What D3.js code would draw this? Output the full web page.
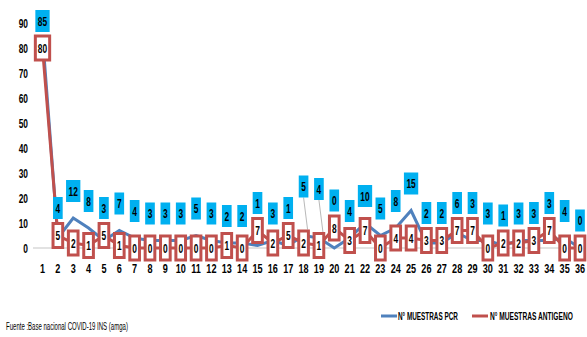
<!DOCTYPE html>
<html><head><meta charset="utf-8">
<script src="https://cdn.jsdelivr.net/npm/d3@7"></script>
<style>
html,body{margin:0;padding:0;background:#fff;}
svg text{font-family:"Liberation Sans",Arial,sans-serif;}
</style></head>
<body>
<script>
const categories = [1,2,3,4,5,6,7,8,9,10,11,12,13,14,15,16,17,18,19,20,21,22,23,24,25,26,27,28,29,30,31,32,33,34,35,36];
const pcr = [85,4,12,8,3,7,4,3,3,3,5,3,2,2,1,3,1,5,4,0,4,10,5,8,15,2,2,6,3,3,1,3,3,3,4,0];
const antigeno = [80,5,2,1,5,1,0,0,0,0,0,0,1,0,7,2,5,2,1,8,3,7,0,4,4,3,3,7,7,0,2,2,3,7,0,0];
const yTicks = [0,10,20,30,40,50,60,70,80,90];
const seriesNames = ["N° MUESTRAS PCR","N° MUESTRAS ANTIGENO"];
const sourceText = "Fuente :Base nacional COVID-19 INS (amga)";
const raisedLabels = [18,19];

const W = 587, H = 337;
const blue = "#4F81BD", red = "#C0504D", labelBlue = "#00B0F0";
const SX = 0.62;
const svg = d3.select("body").append("svg").attr("width", W).attr("height", H);

const x = d3.scalePoint().domain(categories).range([42.5, 580]);
const y = d3.scaleLinear().domain([0, 90]).range([248, 23]);

// narrow text helper: returns [textSel, width]
function ntext(g, px, py, str, size, anchor, sx, weight) {
  const t = g.append("text").attr("text-anchor", anchor || "middle").attr("dominant-baseline", "central")
    .attr("font-size", size).attr("font-weight", weight || "bold").attr("fill", "#000").text(str);
  let s = sx || SX;
  if (s < 0) { // negative: target width
    s = -s / t.node().getComputedTextLength();
  }
  t.attr("transform", `translate(${px},${py}) scale(${s},1)`);
  return [t, t.node().getComputedTextLength() * s];
}

// zero line
svg.append("line").attr("x1", 33).attr("x2", 586).attr("y1", y(0)).attr("y2", y(0))
  .attr("stroke", "#d9d9d9").attr("stroke-width", 1.5);

// y axis
const yAxis = svg.append("g");
yTicks.forEach(v => ntext(yAxis, 28, y(v), v, 13.5, "end"));

// x axis
const xAxis = svg.append("g");
categories.forEach(c => ntext(xAxis, x(c), 268, c, 13, "middle", 0.7));

const line = d3.line().x((d, i) => x(categories[i])).y(d => y(d));
svg.append("path").datum(pcr).attr("d", line).attr("fill", "none").attr("stroke", blue).attr("stroke-width", 3);
svg.append("path").datum(antigeno).attr("d", line).attr("fill", "none").attr("stroke", red).attr("stroke-width", 3);

const redH = 27;
// blue labels
const blueG = svg.append("g");
pcr.forEach((v, i) => {
  const cx = x(categories[i]);
  const redTop = y(antigeno[i]) - redH / 2;
  let bottom = Math.min(y(v) - 16, redTop - 3);
  const bh = 22;
  if (bottom - bh < 10) bottom = 10 + bh;
  if (raisedLabels.includes(categories[i])) {
    bottom -= 22;
    blueG.append("line").attr("x1", cx).attr("x2", cx + 4).attr("y1", bottom).attr("y2", redTop)
      .attr("stroke", "#a6a6a6").attr("stroke-width", 0.8);
  }
  const rect = blueG.append("rect").attr("fill", labelBlue);
  const [t, tw] = ntext(blueG, cx, bottom - bh / 2, v, 13.5);
  rect.attr("x", cx - tw / 2 - 2.5).attr("y", bottom - bh).attr("width", tw + 5).attr("height", bh);
});

// red labels
const redG = svg.append("g");
antigeno.forEach((v, i) => {
  const cx = x(categories[i]), cy = y(v);
  const rect = redG.append("rect").attr("fill", "#fff").attr("stroke", red).attr("stroke-width", 3);
  const [t, tw] = ntext(redG, cx, cy, v, 13.5);
  rect.attr("x", cx - tw / 2 - 2.5).attr("y", cy - (redH - 3) / 2)
    .attr("width", tw + 5).attr("height", redH - 3);
});

// legend
const leg = svg.append("g");
[[blue, 381, 398, 60], [red, 472, 490, 83]].forEach((c, k) => {
  leg.append("line").attr("x1", c[1]).attr("x2", c[1] + 16).attr("y1", 316).attr("y2", 316)
    .attr("stroke", c[0]).attr("stroke-width", 3);
  ntext(leg, c[2], 316, seriesNames[k], 11, "start", -c[3]);
});

ntext(svg, 6, 327, sourceText, 10, "start", -122, "normal");
</script>
</body></html>
